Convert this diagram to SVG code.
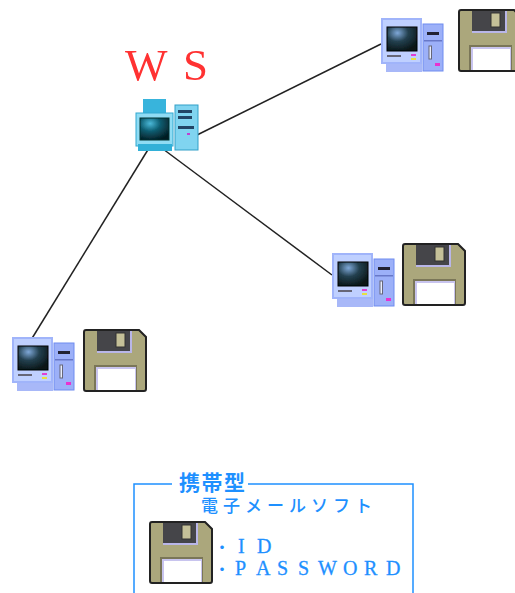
<svg xmlns="http://www.w3.org/2000/svg" width="515" height="593" viewBox="0 0 515 593">
<style>
.cj{font-family:"Noto Sans CJK JP","Noto Sans",sans-serif;fill:#1e90ff}
.lat{font-family:"Liberation Serif","Noto Sans CJK JP",serif;fill:#1e90ff;stroke:#1e90ff;stroke-width:.3}
.link{stroke:#222;stroke-width:1.5;fill:none}
.soft{filter:url(#soft)}
</style>
<defs>
<filter id="soft" x="-5%" y="-5%" width="110%" height="110%"><feGaussianBlur stdDeviation="0.55"/></filter>
<radialGradient id="scr" cx="35%" cy="25%" r="80%"><stop offset="0" stop-color="#7fa8d8"/><stop offset=".45" stop-color="#23404f"/><stop offset="1" stop-color="#081414"/></radialGradient>
<radialGradient id="scrW" cx="35%" cy="25%" r="80%"><stop offset="0" stop-color="#4ab8d8"/><stop offset=".45" stop-color="#0c5c70"/><stop offset="1" stop-color="#041c22"/></radialGradient>
<symbol id="pc" width="64" height="56" viewBox="0 0 64 56" overflow="visible">
<rect x="5" y="45" width="36" height="9" fill="#a8b8f8"/>
<rect x="0" y="0" width="41" height="46" fill="#a0b4fa"/>
<rect x="2" y="2" width="37" height="42" fill="#bfd0ff"/>
<rect x="6" y="9" width="30" height="24" fill="url(#scr)" stroke="#000" stroke-width="1"/>
<rect x="6" y="37" width="14" height="2" fill="#667"/>
<rect x="30" y="36" width="5" height="2" fill="#e040d0"/>
<rect x="30" y="40" width="5" height="2" fill="#e8e040"/>
<rect x="42" y="6" width="20" height="47" fill="#9cb0f8" stroke="#6f8cf0"/>
<rect x="46" y="14" width="12" height="3" fill="#223"/>
<rect x="43" y="22" width="18" height="1.5" fill="#6878c8"/>
<rect x="48" y="28" width="2.5" height="13" fill="#e8eeff" stroke="#667"/>
<rect x="54" y="45" width="5" height="3" fill="#e830d0"/>
</symbol>
<symbol id="fd" width="64" height="64" viewBox="0 0 64 64" overflow="visible">
<path d="M3 1H56L63 8V60Q63 62 61 62H3Q1 62 1 60V3Q1 1 3 1Z" fill="#aba77c" stroke="#222" stroke-width="2"/>
<rect x="14" y="2" width="35" height="22" fill="#b9b6e8"/>
<rect x="14" y="2" width="33" height="20" fill="#454548"/>
<rect x="33" y="4" width="9" height="14" fill="#c4c098" stroke="#333"/>
<rect x="11" y="36" width="43" height="25" fill="#7a7658"/>
<rect x="13" y="38" width="40" height="23" fill="#c8c4ee"/>
<rect x="15" y="40" width="37" height="21" fill="#fff"/>
</symbol>
</defs>
<g id="connectors">
<line class="link" x1="197" y1="135" x2="381" y2="44"/>
<line class="link" x1="163" y1="149" x2="332" y2="275"/>
<line class="link" x1="149" y1="148" x2="31" y2="340"/>
</g>
<g id="ws">
<text x="125 183" y="80" font-family="Liberation Serif,serif" font-size="45" fill="#ff3030" class="soft">WS</text>
<g class="soft">
<rect x="143" y="99" width="23" height="14" fill="#38b4dc"/>
<rect x="147" y="113" width="15" height="4" fill="#2aa0c8"/>
<rect x="136" y="113" width="37" height="33" fill="#8fdcf4" stroke="#30a8d0"/>
<rect x="140" y="118" width="29" height="22" fill="url(#scrW)" stroke="#033"/>
<rect x="138" y="144" width="34" height="7" fill="#30b0d8"/>
<rect x="175" y="105" width="23" height="45" fill="#80d4f0" stroke="#30a0c8"/>
<rect x="178" y="110" width="14" height="3" fill="#246"/>
<rect x="178" y="116" width="14" height="3" fill="#246"/>
<rect x="178" y="126" width="16" height="3" fill="#246"/>
<rect x="187" y="133" width="3" height="2" fill="#c040d0"/>
</g>
</g>
<g id="pc-top" class="soft"><use href="#pc" x="381" y="18"/><use href="#fd" x="458" y="9"/></g>
<g id="pc-mid" class="soft"><use href="#pc" x="332" y="253"/><use href="#fd" x="402" y="243"/></g>
<g id="pc-left" class="soft"><use href="#pc" x="12" y="337"/><use href="#fd" x="83" y="329"/></g>
<g id="legend">
<path d="M172 484H134V593M248 484H413V593" fill="none" stroke="#1e90ff" stroke-width="1.5"/>
<text class="cj" x="179" y="490" font-size="21" font-weight="700" textLength="66">携帯型</text>
<text class="cj" x="201" y="512" font-size="17" font-weight="500" textLength="171">電子メールソフト</text>
<use href="#fd" x="149" y="521" class="soft"/>
<text class="cj" x="215" y="552" font-size="14" font-weight="700">・</text>
<text class="lat" x="238 257" y="553" font-size="20">ID</text>
<text class="cj" x="215" y="574" font-size="14" font-weight="700">・</text>
<text class="lat" x="235 256 277 298 318 343 364 386" y="575" font-size="20">PASSWORD</text>
</g>
</svg>
